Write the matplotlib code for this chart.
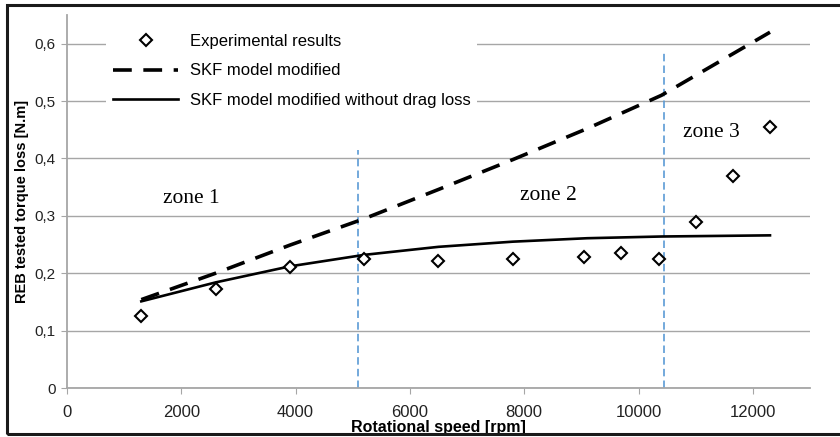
import numpy as np
import matplotlib
matplotlib.use('Agg')
import matplotlib.pyplot as plt
from matplotlib.lines import Line2D
from matplotlib.patches import Rectangle
from matplotlib.ticker import FuncFormatter

plt.rcParams['font.family'] = ['Liberation Sans', 'DejaVu Sans']

# experimental points
speed_exp = [1300, 2600, 3900, 5200, 6500, 7800, 9050, 9700, 10350, 11000, 11650, 12300]
torque_exp = [0.125, 0.172, 0.210, 0.224, 0.221, 0.224, 0.228, 0.235, 0.224, 0.290, 0.370, 0.454]

# model curves
speed_mod = [1300, 2600, 3900, 5200, 6500, 7800, 9100, 10400, 12300]
torque_skf = [0.154, 0.200, 0.249, 0.295, 0.346, 0.398, 0.452, 0.510, 0.620]
torque_nodrag = [0.151, 0.184, 0.212, 0.232, 0.246, 0.255, 0.261, 0.264, 0.266]

# zone separators and labels
zone_bounds = [5100, 10450]
zone_tops = [0.415, 0.588]
zone_names = ['zone 1', 'zone 2', 'zone 3']
zone_x = [1680, 7920, 10780]
zone_y = [0.33, 0.336, 0.445]

labels = ['Experimental results', 'SKF model modified',
          'SKF model modified without drag loss']

grid_col = '#a6a6a6'

fig = plt.figure(figsize=(8.4, 4.37), dpi=100)
ax = fig.add_axes([67/840, 49/437, 743/840, 373/437])

ax.vlines(zone_bounds, 0, zone_tops, colors='#5b9bd5', lw=1.2,
          linestyles=[(0, (4.5, 2.5))], zorder=2)
ax.plot(speed_mod, torque_skf, color='black', lw=2.6,
        linestyle=(0, (5.2, 3.2)), zorder=3)
ax.plot(speed_mod, torque_nodrag, color='black', lw=1.9, zorder=3)
ax.plot(speed_exp, torque_exp, linestyle='none', marker='D', ms=6,
        mfc='white', mec='black', mew=1.5, zorder=4)

for name, xz, yz in zip(zone_names, zone_x, zone_y):
    ax.text(xz, yz, name, family='Liberation Serif', fontsize=15.5,
            va='center', ha='left')

ax.set_xlim(0, 13000)
ax.set_ylim(0, 0.65)
ax.set_xticks(np.arange(0, 12001, 2000))
ax.set_yticks(np.arange(0, 0.61, 0.1))
ax.yaxis.set_major_formatter(FuncFormatter(
    lambda v, p: '0' if abs(v) < 1e-9 else ('%.1f' % v).replace('.', ',')))
ax.yaxis.grid(True, color=grid_col, lw=1.0)
ax.set_axisbelow(True)
for s in ['top', 'right']:
    ax.spines[s].set_visible(False)
for s in ['left', 'bottom']:
    ax.spines[s].set_color(grid_col)
    ax.spines[s].set_linewidth(1.3)
ax.tick_params(axis='x', direction='out', length=4, color=grid_col,
               labelsize=12, pad=8, labelcolor='#222222')
ax.tick_params(axis='y', direction='out', length=4, color=grid_col,
               labelsize=11, pad=4, labelcolor='#222222')

ax.set_xlabel('Rotational speed [rpm]', fontsize=11.5, fontweight='bold',
              labelpad=0)
ax.set_ylabel('REB tested torque loss [N.m]', fontsize=10.5, fontweight='bold',
              labelpad=4)

handles = [
    Line2D([], [], linestyle='none', marker='D', ms=6, mfc='white',
           mec='black', mew=1.5),
    Line2D([], [], color='black', lw=2.6, linestyle=(0, (5.2, 3.2))),
    Line2D([], [], color='black', lw=1.9),
]
leg = ax.legend(handles, labels, loc='upper left',
                bbox_to_anchor=(0.053, 0.967), borderaxespad=0,
                fontsize=12, handlelength=3.9, handletextpad=0.7,
                labelspacing=0.87, borderpad=0.4, frameon=True,
                fancybox=False, framealpha=1)
leg.get_frame().set_edgecolor('none')
leg.get_frame().set_facecolor('white')

# outer frame of the picture
fig.patches.append(Rectangle((6.5/840, 3.5/437), 1.1, 428.5/437,
                             transform=fig.transFigure, fill=False,
                             ec='#1a1a1a', lw=2.2))

fig.savefig('out.png', dpi=100)
